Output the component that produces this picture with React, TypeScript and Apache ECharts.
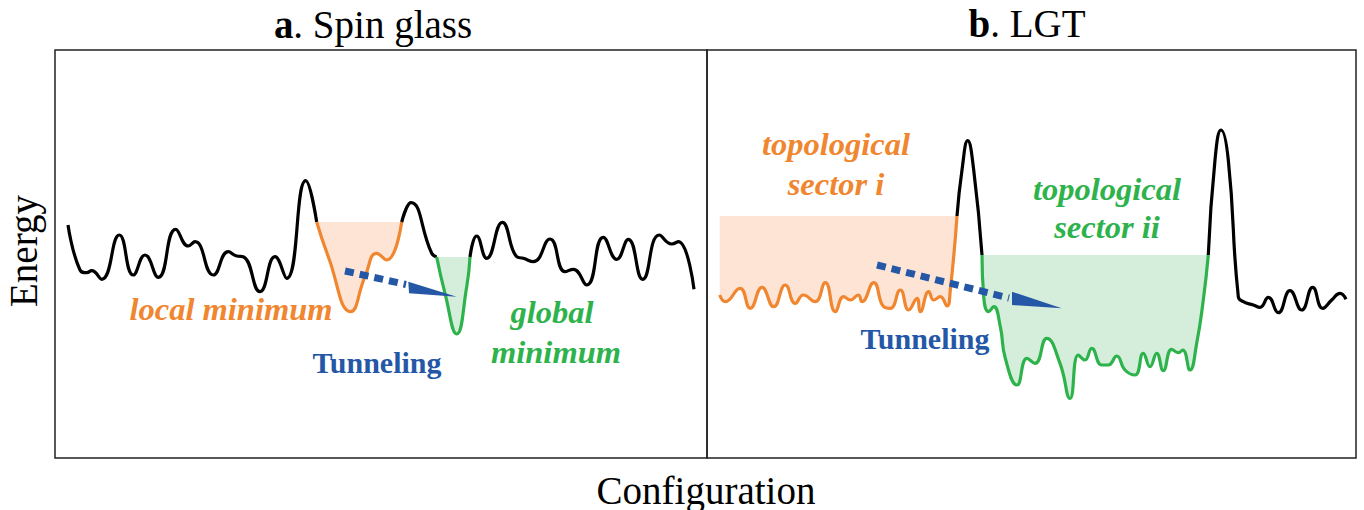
import React, { useEffect, useRef } from 'react';
import * as echarts from 'echarts';

// ---- Panel a: spin glass landscape (x = configuration, y = energy) ----
const aBlack1 = [[13,233],[25,188],[31.7,185.3],[36.7,187.3],[46.7,178.7],[64.3,223],[78.3,183],[90,203],[103.3,180.7],[120.7,228.7],[133.3,212],[140,216.3],[158.3,183],[173.3,206.3],[181.7,202],[188.3,201.3],[205,166.3],[220,201.3],[231.7,179.7],[250.7,277.3],[261.7,236]];
const aOrange = [[261.7,236],[273.3,201.3],[295.7,146.3],[310,181.3],[321.7,204.7],[331.7,198],[346.7,236]];
const aBlack2 = [[346.7,236],[356,255.3],[376.7,204.7],[381.7,201]];
const aGreen = [[381.7,201],[390,164.7],[401.7,124],[411.7,171.3],[415,201]];
const aBlack3 = [[415,201],[421.7,222],[431.7,199.7],[447.3,235.7],[461.7,201.3],[468.3,199.7],[478.3,196.3],[495,219],[510,186.3],[518.3,188.7],[531.7,173],[548.3,220.7],[561.7,198.7],[573.3,218.7],[587.7,178.7],[604.3,223],[616.7,214],[623.3,216.3],[639,168.7]];
const aLocalLevel = 236;
const aGlobalLevel = 201;
const aArrowTail = [290, 187];
const aArrowNeck = [351, 173.5];
const aArrowHead = [[353.3,176.3],[354,164.7],[401.7,161.3]];

// ---- Panel b: lattice gauge theory landscape ----
const bOrange = [[12.7,163],[18.3,156.3],[33,169.7],[43.3,149.7],[55,170.7],[66.7,151.3],[78.3,173],[88.3,154.7],[96.3,163],[108,156.3],[118.3,175.3],[128.3,146.3],[136.7,161.3],[143.3,158],[151.3,163],[155,156.3],[166.7,175.3],[176.7,151.3],[183.3,149.7],[193.3,168],[201.7,148],[210,159.7],[213.3,146.3],[221.7,166.3],[226.7,158],[233.3,161.3],[240,152],[243.3,168],[250,242]];
const bBlack1 = [[250,242],[255,288],[260.7,317.3],[266.7,288],[275,203]];
const bGreen = [[275,203],[276.7,161.3],[281.7,146.3],[286.7,151.3],[293.3,131.3],[298.3,99.7],[310,73],[320,99.7],[328,94.7],[339.7,119.7],[353,94.7],[363,59.7],[371.3,103],[378,98],[384.7,109.7],[394.7,93],[401.3,93],[409.7,102],[418,88],[428,83],[436.3,104.7],[443,91.3],[449.7,104.7],[456.3,87.3],[464.7,108.7],[471.3,105.3],[475.7,108],[483,88],[489.7,114.7],[496.3,158],[501.3,203]];
const bBlack2 = [[501.3,203],[508,298],[514,328],[521.3,298],[531.3,161.3],[536.3,156.3],[546.3,153],[553,150.7],[561.3,160.7],[571.3,145.3],[583,167.3],[594.7,148],[605.7,170.7],[615.7,149.7],[624.7,158],[633,164.7],[639,158.7]];
const bSectorILevel = 242;
const bSectorIILevel = 203;
const bArrowTail = [170, 193];
const bArrowNeck = [302, 160];
const bArrowHead = [[305,166.3],[305,153],[354.7,149.7]];

const titles = ['a', '. Spin glass', 'b', '. LGT'];

const BLACK = '#000000';
const ORANGE = '#F0862F';
const GREEN = '#2EB24B';
const BLUE = '#2557A7';
const ORANGE_FILL = '#FDE4D5';
const GREEN_FILL = '#D4EEDB';
const FAMILY = "'Liberation Serif', serif";

function lineSeries(data: number[][], color: string, gi: number, level?: number, fill?: string) {
  const s: any = {
    type: 'line',
    xAxisIndex: gi,
    yAxisIndex: gi,
    data,
    smooth: 0.5,
    symbol: 'none',
    lineStyle: { color, width: 3.2 },
    z: 3,
    silent: true,
  };
  if (level !== undefined) {
    s.areaStyle = { origin: level, color: fill, opacity: 1 };
  }
  return s;
}

function arrowSeries(gi: number, tail: number[], neck: number[], head: number[][]) {
  return {
    type: 'custom',
    xAxisIndex: gi,
    yAxisIndex: gi,
    data: [[0, 0]],
    z: 10,
    silent: true,
    renderItem: (_p: any, api: any) => {
      const a = api.coord(tail);
      const b = api.coord(neck);
      const h = head.map((p) => api.coord(p));
      return {
        type: 'group',
        children: [
          { type: 'line', shape: { x1: a[0], y1: a[1], x2: b[0], y2: b[1] }, style: { stroke: BLUE, lineWidth: 7, lineDash: [9, 6], fill: null } },
          { type: 'polygon', shape: { points: h }, style: { fill: BLUE } },
        ],
      };
    },
  };
}

function label(text: string, x: number, y: number, color: string, size: number, italic = true) {
  return {
    type: 'text',
    x,
    y,
    style: {
      text,
      fill: color,
      fontFamily: FAMILY,
      fontSize: size,
      fontWeight: 'bold',
      fontStyle: italic ? 'italic' : 'normal',
      align: 'center',
      verticalAlign: 'middle',
    },
    z: 20,
  };
}

function plain(text: string, x: number, y: number, size: number, rotation = 0) {
  return {
    type: 'text', x, y, rotation,
    style: { text, fill: '#000', fontFamily: FAMILY, fontSize: size, align: 'center', verticalAlign: 'middle' },
  };
}

function title(bold: string, rest: string, x: number, y: number) {
  return {
    type: 'text', x, y,
    style: {
      text: `{b|${bold}}{r|${rest}}`,
      fontFamily: FAMILY, fontSize: 39, fill: '#000', align: 'center', verticalAlign: 'middle',
      rich: {
        b: { fontWeight: 'bold', fontSize: 39, fontFamily: FAMILY, fill: '#000' },
        r: { fontWeight: 'normal', fontSize: 39, fontFamily: FAMILY, fill: '#000' },
      },
    },
  };
}

export default function App() {
  const ref = useRef<HTMLDivElement>(null);
  useEffect(() => {
    if (!ref.current) return;
    const chart = echarts.init(ref.current, null, { renderer: 'svg' });
    const option: any = {
      animation: false,
      backgroundColor: '#ffffff',
      grid: [
        { left: 55, top: 50, width: 652, height: 408, show: true, borderColor: '#222', borderWidth: 1.5, backgroundColor: 'transparent' },
        { left: 707, top: 50, width: 649, height: 408, show: true, borderColor: '#222', borderWidth: 1.5, backgroundColor: 'transparent' },
      ],
      xAxis: [
        { gridIndex: 0, type: 'value', min: 0, max: 652, show: false },
        { gridIndex: 1, type: 'value', min: 0, max: 649, show: false },
      ],
      yAxis: [
        { gridIndex: 0, type: 'value', min: 0, max: 408, show: false },
        { gridIndex: 1, type: 'value', min: 0, max: 408, show: false },
      ],
      series: [
        lineSeries(aBlack1, BLACK, 0),
        lineSeries(aOrange, ORANGE, 0, aLocalLevel, ORANGE_FILL),
        lineSeries(aBlack2, BLACK, 0),
        lineSeries(aGreen, GREEN, 0, aGlobalLevel, GREEN_FILL),
        lineSeries(aBlack3, BLACK, 0),
        lineSeries(bOrange, ORANGE, 1, bSectorILevel, ORANGE_FILL),
        lineSeries(bBlack1, BLACK, 1),
        lineSeries(bGreen, GREEN, 1, bSectorIILevel, GREEN_FILL),
        lineSeries(bBlack2, BLACK, 1),
        arrowSeries(0, aArrowTail, aArrowNeck, aArrowHead),
        arrowSeries(1, bArrowTail, bArrowNeck, bArrowHead),
      ],
      graphic: [
        title(titles[0], titles[1], 373, 24),
        title(titles[2], titles[3], 1027, 23),
        plain('Energy', 23, 251, 39, Math.PI / 2),
        plain('Configuration', 706, 490, 39),
        label('local minimum', 231, 309, ORANGE, 32.5),
        label('Tunneling', 377, 362, BLUE, 30, false),
        label('global', 552, 312, GREEN, 32.5),
        label('minimum', 556, 352, GREEN, 32.5),
        label('topological', 836, 144, ORANGE, 32.5),
        label('sector i', 836, 184, ORANGE, 32.5),
        label('Tunneling', 925, 338, BLUE, 30, false),
        label('topological', 1107, 189, GREEN, 32.5),
        label('sector ii', 1107, 227, GREEN, 32.5),
      ],
    };
    chart.setOption(option);
    return () => chart.dispose();
  }, []);
  return <div ref={ref} style={{ position: 'absolute', left: 0, top: 0, width: 1364, height: 510 }} />;
}
